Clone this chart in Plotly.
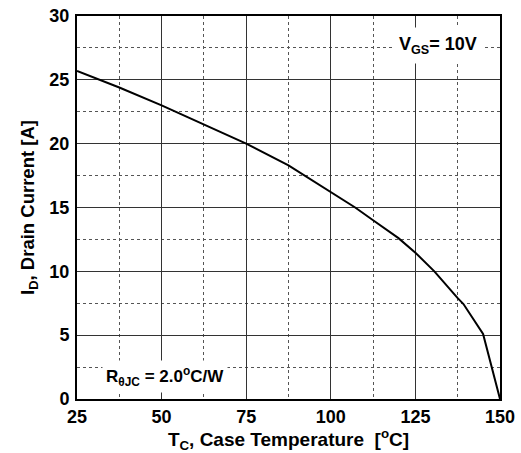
import plotly.graph_objects as go

temp_c = [25, 37.5, 50, 62.5, 75, 87.5, 100, 107.2, 112.5, 120, 125, 130.6, 137.5, 139.2, 145, 150]
drain_a = [25.7, 24.4, 23.0, 21.5, 20.0, 18.3, 16.2, 15.0, 14.0, 12.6, 11.46, 10.0, 7.9, 7.44, 5.1, 0.0]

x_ticks = [25, 50, 75, 100, 125, 150]
y_ticks = [0, 5, 10, 15, 20, 25, 30]

FONT = "Liberation Sans, Arial, sans-serif"

fig = go.Figure()
fig.add_trace(go.Scatter(x=temp_c, y=drain_a, mode="lines",
                         line=dict(color="black", width=2), showlegend=False,
                         hoverinfo="skip"))

axis_common = dict(
    showline=True, mirror=True, linecolor="black", linewidth=2,
    showgrid=True, gridcolor="#333333", gridwidth=1,
    zeroline=False, ticks="", automargin=False,
    tickfont=dict(family=FONT, size=18, color="black", weight="bold"),
)

fig.update_xaxes(range=[25, 150], tickvals=x_ticks, ticktext=[str(v) for v in x_ticks],
                 minor=dict(dtick=12.5, tick0=25, showgrid=True, gridcolor="#555555",
                            griddash="dot", gridwidth=1),
                 title=dict(text="T<sub>C</sub>, Case Temperature&nbsp; [<sup>o</sup>C]",
                            font=dict(family=FONT, size=19, color="black", weight="bold"),
                            standoff=0),
                 **axis_common)
fig.update_yaxes(range=[0, 30], tickvals=y_ticks, ticktext=[str(v) for v in y_ticks],
                 ticklabelstandoff=2,
                 minor=dict(dtick=2.5, tick0=0, showgrid=True, gridcolor="#555555",
                            griddash="dot", gridwidth=1),
                 title=dict(text="I<sub>D</sub>, Drain Current [A]",
                            font=dict(family=FONT, size=18.5, color="black", weight="bold"),
                            standoff=10),
                 **axis_common)

fig.add_annotation(x=0.963, y=0.922, xref="paper", yref="paper", xanchor="right", yanchor="middle",
                   text="V<sub>GS</sub>= 10V", showarrow=False, bgcolor="white", borderpad=6,
                   font=dict(family=FONT, size=18, color="black", weight="bold"))
fig.add_annotation(x=0.058, y=0.058, xref="paper", yref="paper", xanchor="left", yanchor="middle",
                   text="R<sub>θJC</sub> = 2.0<sup>o</sup>C/W", showarrow=False, bgcolor="white",
                   borderpad=3,
                   font=dict(family=FONT, size=17, color="black", weight="bold"))

fig.update_layout(
    width=521, height=453,
    margin=dict(l=77, r=21, t=16, b=54),
    paper_bgcolor="white", plot_bgcolor="white",
)

fig.write_html("out.html", config={"displayModeBar": False},
               post_script="document.body.style.margin='0';")
